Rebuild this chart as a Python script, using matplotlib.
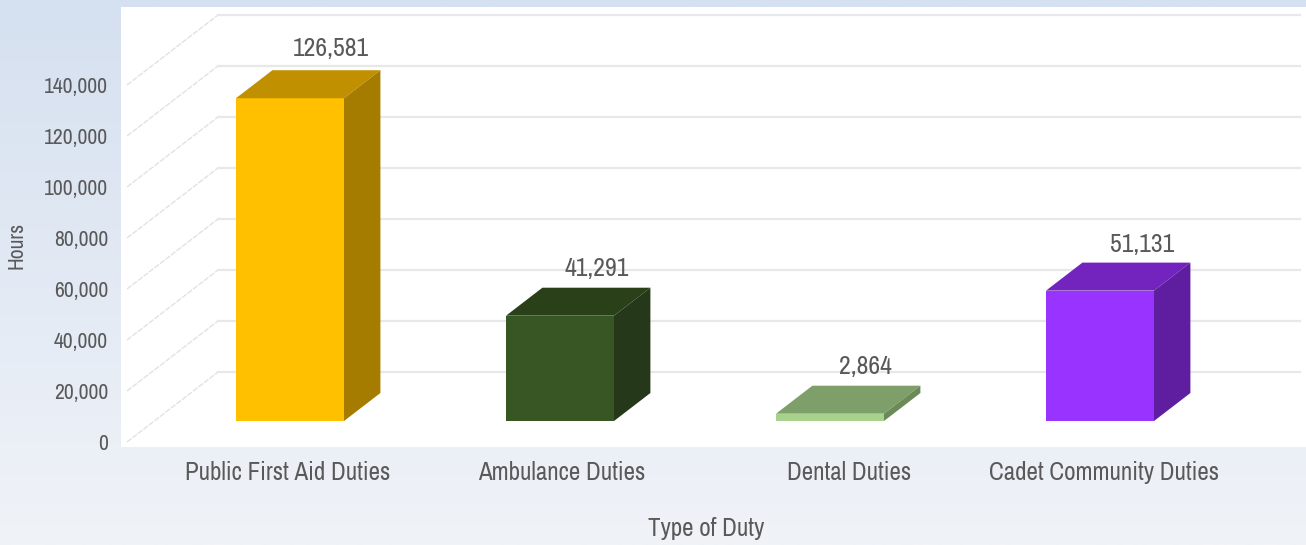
import numpy as np
import matplotlib
matplotlib.use("Agg")
import matplotlib.pyplot as plt

W, H = 1306, 545

duties = ["Public First Aid Duties", "Ambulance Duties", "Dental Duties", "Cadet Community Duties"]
hours = [126581, 41291, 2864, 51131]
y_ticks = [0, 20000, 40000, 60000, 80000, 100000, 120000, 140000]

front_colors = ["#ffc000", "#375623", "#a9d18e", "#9933ff"]
top_colors = ["#c09000", "#294019", "#7f9f6a", "#7324bf"]
side_colors = ["#a67c00", "#25391a", "#6a8a58", "#5f1d9f"]

# px layout of the fake 3d box
CAT_PX = 270.0
VAL_PER_PX = 20000 / 51.0
WALL_DX = 91 / CAT_PX          # floor depth in category units
WALL_DY = 70 * VAL_PER_PX      # floor depth in value units
BAR_WIDTH = 108 / CAT_PX
BAR_FRONT, BAR_BACK = 0.3, 0.7  # depth range of the bars
LABEL_SHIFT = [-2 / CAT_PX, 2 / CAT_PX, 19 / CAT_PX, 4 / CAT_PX]
# value label offsets from the bar's front top centre, px
VALUE_DX = [41, 37, 35, 42]
VALUE_DY = [50, 47, 47, 46]

TEXT = "#595959"
plt.rcParams["font.family"] = ["Archivo Narrow", "Liberation Sans", "DejaVu Sans"]


def proj(x, val, depth):
    return x + depth * WALL_DX, val + depth * WALL_DY


fig = plt.figure(figsize=(W / 100, H / 100), dpi=100)

# page gradient
bg = fig.add_axes([0, 0, 1, 1], zorder=0)
grad = np.linspace(0, 1, 256).reshape(-1, 1, 1)
top_c, bot_c = np.array([0xd5, 0xe0, 0xf0]) / 255, np.array([0xf0, 0xf3, 0xf8]) / 255
bg.imshow(top_c + (bot_c - top_c) * grad, aspect="auto", extent=[0, 1, 0, 1])
bg.axis("off")

# white plot area, 121..1306 x 7..447 px
ax = fig.add_axes([121 / W, 1 - 447 / H, (W - 121) / W, 440 / H], zorder=1)
ax.set_facecolor("white")
ax.set_xlim((121 - 290) / CAT_PX, (W - 290) / CAT_PX)
ax.set_ylim(-5 * VAL_PER_PX, 435 * VAL_PER_PX)
for s in ax.spines.values():
    s.set_visible(False)

# walls: diagonal floor lines + back gridlines
wall_left = (127 - 290) / CAT_PX
wall_right = (1300 - 290) / CAT_PX
for v in y_ticks:
    x0, y0 = proj(wall_left, v, 0)
    x1, y1 = proj(wall_left, v, 1)
    ax.plot([x0, x1], [y0, y1], color="#e2e2e2", lw=1.0, ls=(0, (4, 1)), zorder=1)
    ax.plot([x1, wall_right], [y1, y1], color="#e8e8e8", lw=1.6, zorder=1)

# bars, front face sits at BAR_FRONT so shift the projection back
xs = np.arange(len(hours))
base = BAR_FRONT * WALL_DY
shift = BAR_FRONT * WALL_DX
ax.bar(xs, hours, width=BAR_WIDTH, bottom=base, color=front_colors, zorder=3, linewidth=0)
for i, (x, v) in enumerate(zip(xs, hours)):
    xl, xr = x - BAR_WIDTH / 2 - shift, x + BAR_WIDTH / 2 - shift
    top = [proj(xl, v, BAR_FRONT), proj(xr, v, BAR_FRONT), proj(xr, v, BAR_BACK), proj(xl, v, BAR_BACK)]
    side = [proj(xr, 0, BAR_FRONT), proj(xr, v, BAR_FRONT), proj(xr, v, BAR_BACK), proj(xr, 0, BAR_BACK)]
    ax.fill(*zip(*top), color=top_colors[i], lw=0, zorder=3)
    ax.fill(*zip(*side), color=side_colors[i], lw=0, zorder=3)
    ax.annotate(f"{v:,}", xy=(x, v + base), xytext=(VALUE_DX[i] * 0.72, VALUE_DY[i] * 0.72),
                textcoords="offset points", ha="center", va="center", fontsize=18.5, color=TEXT, zorder=4)

ax.set_yticks(y_ticks)
ax.set_yticklabels([f"{v:,}" for v in y_ticks])
ax.set_xticks(xs + np.array(LABEL_SHIFT))
ax.set_xticklabels(duties)
ax.tick_params(axis="y", length=0, pad=13 * 0.72, labelsize=15.5, labelcolor=TEXT)
ax.tick_params(axis="x", length=0, pad=14 * 0.72, labelsize=18, labelcolor=TEXT)

fig.text(17 / W, 1 - 245 / H, "Hours", rotation=90, ha="center", va="center", fontsize=15.5, color=TEXT)
fig.text(706 / W, 1 - 529 / H, "Type of Duty", ha="center", va="center", fontsize=18, color=TEXT)

fig.savefig("out.png", dpi=100)
